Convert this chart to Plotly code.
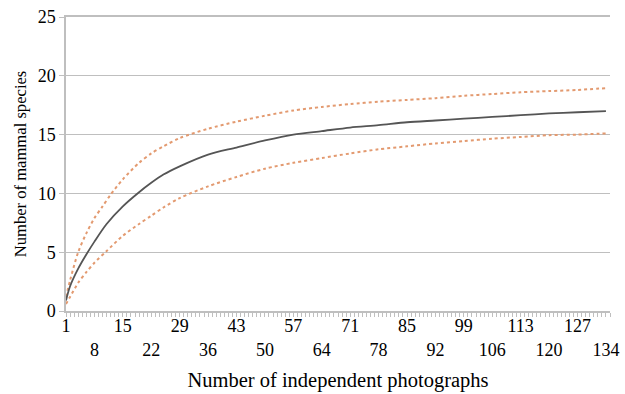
import plotly.graph_objects as go

mean_x = [1, 2, 4, 6, 8, 11, 15, 19, 22, 25, 29, 36, 43, 50, 57, 64, 71, 78, 85, 92, 99, 106, 113, 120, 127, 134]
mean_y = [0.9, 2.1, 3.6, 4.8, 5.9, 7.4, 8.9, 10.1, 10.9, 11.6, 12.3, 13.3, 13.9, 14.5, 15.0, 15.3, 15.6, 15.8,
          16.05, 16.2, 16.35, 16.5, 16.65, 16.8, 16.9, 17.0]

upper_x = [1, 2, 4, 6, 8, 10, 12, 15, 19, 22, 25, 29, 36, 43, 50, 57, 64, 71, 78, 85, 92, 99, 106, 113, 120, 127, 134]
upper_y = [1.2, 2.6, 5.0, 6.6, 7.9, 8.9, 9.9, 11.2, 12.6, 13.4, 14.0, 14.7, 15.5, 16.1, 16.6, 17.05, 17.35, 17.6,
           17.8, 17.95, 18.1, 18.3, 18.45, 18.6, 18.7, 18.8, 18.95]

lower_x = [1, 2, 4, 6, 8, 11, 15, 19, 22, 25, 29, 36, 43, 50, 57, 64, 71, 78, 85, 92, 99, 106, 113, 120, 127, 134]
lower_y = [0.6, 1.2, 2.4, 3.3, 4.1, 5.1, 6.4, 7.4, 8.1, 8.8, 9.6, 10.6, 11.4, 12.1, 12.6, 13.0, 13.4, 13.75,
           14.0, 14.25, 14.45, 14.65, 14.8, 14.95, 15.0, 15.1]

top_row_ticks = [1, 15, 29, 43, 57, 71, 85, 99, 113, 127]
bottom_row_ticks = [8, 22, 36, 50, 64, 78, 92, 106, 120, 134]
y_ticks = [0, 5, 10, 15, 20, 25]

x_title = "Number of independent photographs"
y_title = "Number of mammal species"

FONT = "Liberation Serif, Times New Roman, serif"
GRID = "#BFBFBF"
DOT = "#E39A70"

fig = go.Figure()
fig.add_trace(go.Scatter(x=upper_x, y=upper_y, mode="lines", line=dict(color=DOT, width=2, dash="dot", shape="spline", smoothing=0.8),
                         showlegend=False, hoverinfo="skip"))
fig.add_trace(go.Scatter(x=lower_x, y=lower_y, mode="lines", line=dict(color=DOT, width=2, dash="dot", shape="spline", smoothing=0.8),
                         showlegend=False, hoverinfo="skip"))
fig.add_trace(go.Scatter(x=mean_x, y=mean_y, mode="lines", line=dict(color="#555555", width=1.8, shape="spline", smoothing=0.8),
                         showlegend=False, hoverinfo="skip"))

tickvals = top_row_ticks + bottom_row_ticks
ticktext = [str(v) for v in top_row_ticks] + ["<br>" + str(v) for v in bottom_row_ticks]

fig.update_layout(
    width=625, height=394,
    margin=dict(l=66, r=15, t=17, b=83, autoexpand=False),
    paper_bgcolor="white", plot_bgcolor="white",
    font=dict(family=FONT, size=18, color="#000000"),
    xaxis=dict(
        range=[1, 135], tickvals=tickvals, ticktext=ticktext,
        showgrid=False, zeroline=False, automargin=False,
        showline=True, linecolor=GRID, linewidth=1.5, mirror=True,
        ticks="outside", ticklen=4, tickcolor=GRID, tickwidth=1,
        minor=dict(tick0=1, dtick=1, ticks="outside", ticklen=4, tickcolor=GRID, tickwidth=1, showgrid=False),
        tickfont=dict(family=FONT, size=18),
        ticklabelstandoff=-6,
        tickangle=0,
        title=dict(text=x_title, font=dict(family=FONT, size=20.5), standoff=14),
    ),
    yaxis=dict(
        range=[0, 25], tickvals=y_ticks, automargin=False,
        showgrid=True, gridcolor=GRID, gridwidth=1.2,
        zeroline=False, showline=True, linecolor=GRID, linewidth=1.5,
        ticks="outside", ticklen=5, tickcolor=GRID,
        tickfont=dict(family=FONT, size=18),
        title=dict(text=y_title, font=dict(family=FONT, size=16.6), standoff=7),
    ),
)

# Remove the browser's default 8px body margin so the figure fills the window exactly.
fig.write_html("out.html", config={"displayModeBar": False},
               post_script="document.body.style.margin='0px';")
